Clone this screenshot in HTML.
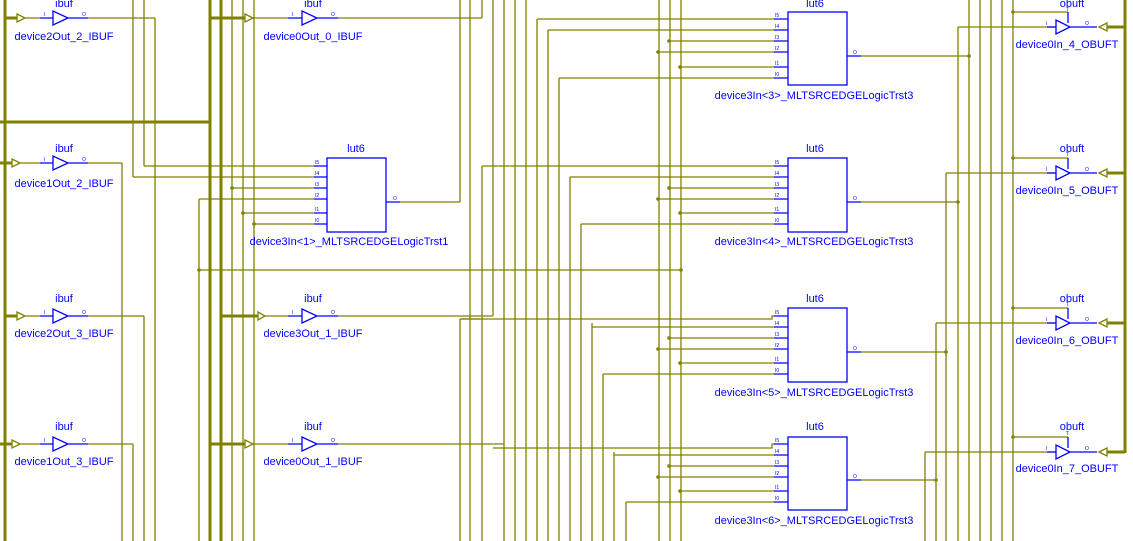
<!DOCTYPE html>
<html><head><meta charset="utf-8"><style>
body{margin:0;background:#fff;width:1133px;height:541px;overflow:hidden}
svg{display:block}
text{font-family:"Liberation Sans",Arial,sans-serif;fill:#0000ff}
.w{stroke:#808000;stroke-width:1.3;fill:none}
.t{stroke:#808000;stroke-width:3;fill:none}
.b{stroke:#0000ff;stroke-width:1.3;fill:none}
.d{fill:#808000}
.lb{font-size:11px}
.pn{font-size:5px;fill:#0000ff}
</style></head><body>
<svg width="1133" height="541" viewBox="0 0 1133 541">
<path class="t" d="M5 0V541M210 0V541M221 0V541M1125 0V453M0 122H210"/>
<path class="w" d="M155 18V541M122 163V541M144 0V166M133 0V177M144 316V541M133 444V541M199 199V541M232 0V541M243 0V541M254 0V541M460 0V202M460 319V541M470 0V541"/>
<path class="w" d="M482 0V18M482 166V541M493 0V316M504 0V541M515 0V541M526 0V541M537 19V541M548 30V541M559 78V541M570 177V541M581 224V541M592 323V541M603 374V541M614 452V541M626 502V541M659 0V541M670 0V541M681 0V541"/>
<path class="w" d="M925 452V541M936 323V541M946 173V541M958 27V541M969 0V541M980 0V541M991 0V541M1002 0V541M1013 0V541"/>
<path class="w" d="M88 18H155M88 163H122M88 316H144M88 444H133M338 18H482M338 316H493M460 319H480M338 444H504M199 270H681"/>
<path class="w" d="M144 166H314M133 177H314M232 188H314M199 199H314M243 213H314M254 224H314M400 202H460"/>
<path class="w" d="M537 19H774M548 30H774M669 41H774M658 52H774M680 67H774M559 78H774M861 56H969"/>
<path class="w" d="M482 166H774M570 177H774M669 188H774M658 199H774M680 213H774M581 224H774M861 202H958"/>
<path class="w" d="M460 319H772V316H774M592 327H774M669 338H774M658 349H774M680 363H774M603 374H774M861 352H946"/>
<path class="w" d="M493 448H772V444H774M614 455H774M669 466H774M658 477H774M680 491H774M626 502H774M861 480H936"/>
<path class="w" d="M1013 12H1068M958 27H1056M1013 158H1068M946 173H1056M1013 308H1068M936 323H1056M1013 437H1068M925 452H1056"/>
<g class="d">
<circle cx="232" cy="188" r="1.8"/><circle cx="243" cy="213" r="1.8"/><circle cx="254" cy="224" r="1.8"/><circle cx="199" cy="270" r="1.8"/><circle cx="681" cy="270" r="1.8"/>
<circle cx="669" cy="41" r="1.8"/><circle cx="658" cy="52" r="1.8"/><circle cx="680" cy="67" r="1.8"/>
<circle cx="669" cy="188" r="1.8"/><circle cx="658" cy="199" r="1.8"/><circle cx="680" cy="213" r="1.8"/>
<circle cx="669" cy="338" r="1.8"/><circle cx="658" cy="349" r="1.8"/><circle cx="680" cy="363" r="1.8"/>
<circle cx="669" cy="466" r="1.8"/><circle cx="658" cy="477" r="1.8"/><circle cx="680" cy="491" r="1.8"/>
<circle cx="969" cy="56" r="1.8"/><circle cx="958" cy="202" r="1.8"/><circle cx="946" cy="352" r="1.8"/><circle cx="936" cy="480" r="1.8"/>
<circle cx="1013" cy="12" r="1.8"/><circle cx="1013" cy="158" r="1.8"/><circle cx="1013" cy="308" r="1.8"/><circle cx="1013" cy="437" r="1.8"/>
</g>
<path class="t" d="M5 18H17M0 163H12M5 316H17M0 444H12M210 18H245M221 316H258M210 444H245M1107 27H1125M1107 173H1125M1107 323H1125M1107 452H1125"/>
<path class="w" d="M17 14L25 18L17 22ZM25 18H40M12 159L20 163L12 167ZM20 163H40M17 312L25 316L17 320ZM25 316H40M12 440L20 444L12 448ZM20 444H40M245 14L253 18L245 22ZM253 18H288M258 312L265 316L258 320ZM265 316H288M245 440L253 444L245 448ZM253 444H288"/>
<path class="w" d="M1107 23L1099 27L1107 31ZM1107 169L1099 173L1107 177ZM1107 319L1099 323L1107 327ZM1107 448L1099 452L1107 456Z"/>
<g class="b">
<path d="M40 18H53M53 11V25L68 18ZM68 18H88"/>
<path d="M40 163H53M53 156V170L68 163ZM68 163H88"/>
<path d="M40 316H53M53 309V323L68 316ZM68 316H88"/>
<path d="M40 444H53M53 437V451L68 444ZM68 444H88"/>
<path d="M288 18H302M302 11V25L317 18ZM317 18H338"/>
<path d="M288 316H302M302 309V323L317 316ZM317 316H338"/>
<path d="M288 444H302M302 437V451L317 444ZM317 444H338"/>
<rect x="327" y="158" width="59" height="74"/>
<path d="M314 166H327M314 177H327M314 188H327M314 199H327M314 213H327M314 224H327M386 202H400"/>
<rect x="788" y="12" width="59" height="73"/>
<path d="M774 19H788M774 30H788M774 41H788M774 52H788M774 67H788M774 78H788M847 56H861"/>
<rect x="788" y="158" width="59" height="74"/>
<path d="M774 166H788M774 177H788M774 188H788M774 199H788M774 213H788M774 224H788M847 202H861"/>
<rect x="788" y="308" width="59" height="74"/>
<path d="M774 316H788M774 327H788M774 338H788M774 349H788M774 363H788M774 374H788M847 352H861"/>
<rect x="788" y="437" width="59" height="73"/>
<path d="M774 444H788M774 455H788M774 466H788M774 477H788M774 491H788M774 502H788M847 480H861"/>
<path d="M1047 27H1056M1056 20V34L1070 27ZM1068 12V23M1070 27H1097"/>
<path d="M1047 173H1056M1056 166V180L1070 173ZM1068 158V169M1070 173H1097"/>
<path d="M1047 323H1056M1056 316V330L1070 323ZM1068 308V319M1070 323H1097"/>
<path d="M1047 452H1056M1056 445V459L1070 452ZM1068 437V448M1070 452H1097"/>
</g>
<g class="lb">
<text x="64" y="7" text-anchor="middle">ibuf</text><text x="64" y="40" text-anchor="middle">device2Out_2_IBUF</text>
<text x="64" y="152" text-anchor="middle">ibuf</text><text x="64" y="187" text-anchor="middle">device1Out_2_IBUF</text>
<text x="64" y="302" text-anchor="middle">ibuf</text><text x="64" y="337" text-anchor="middle">device2Out_3_IBUF</text>
<text x="64" y="430" text-anchor="middle">ibuf</text><text x="64" y="465" text-anchor="middle">device1Out_3_IBUF</text>
<text x="313" y="7" text-anchor="middle">ibuf</text><text x="313" y="40" text-anchor="middle">device0Out_0_IBUF</text>
<text x="313" y="302" text-anchor="middle">ibuf</text><text x="313" y="337" text-anchor="middle">device3Out_1_IBUF</text>
<text x="313" y="430" text-anchor="middle">ibuf</text><text x="313" y="465" text-anchor="middle">device0Out_1_IBUF</text>
<text x="356" y="152" text-anchor="middle">lut6</text><text x="349" y="245" text-anchor="middle">device3In&lt;1&gt;_MLTSRCEDGELogicTrst1</text>
<text x="815" y="7" text-anchor="middle">lut6</text><text x="814" y="99" text-anchor="middle">device3In&lt;3&gt;_MLTSRCEDGELogicTrst3</text>
<text x="815" y="152" text-anchor="middle">lut6</text><text x="814" y="245" text-anchor="middle">device3In&lt;4&gt;_MLTSRCEDGELogicTrst3</text>
<text x="815" y="302" text-anchor="middle">lut6</text><text x="814" y="396" text-anchor="middle">device3In&lt;5&gt;_MLTSRCEDGELogicTrst3</text>
<text x="815" y="430" text-anchor="middle">lut6</text><text x="814" y="524" text-anchor="middle">device3In&lt;6&gt;_MLTSRCEDGELogicTrst3</text>
<text x="1072" y="7" text-anchor="middle">obuft</text><text x="1067" y="48" text-anchor="middle">device0In_4_OBUFT</text>
<text x="1072" y="152" text-anchor="middle">obuft</text><text x="1067" y="194" text-anchor="middle">device0In_5_OBUFT</text>
<text x="1072" y="302" text-anchor="middle">obuft</text><text x="1067" y="344" text-anchor="middle">device0In_6_OBUFT</text>
<text x="1072" y="430" text-anchor="middle">obuft</text><text x="1067" y="472" text-anchor="middle">device0In_7_OBUFT</text>
</g>
<g class="pn">
<text x="44" y="16">I</text><text x="82" y="16">O</text><text x="44" y="161">I</text><text x="82" y="161">O</text>
<text x="44" y="314">I</text><text x="82" y="314">O</text><text x="44" y="442">I</text><text x="82" y="442">O</text>
<text x="292" y="16">I</text><text x="331" y="16">O</text><text x="292" y="314">I</text><text x="331" y="314">O</text>
<text x="292" y="442">I</text><text x="331" y="442">O</text>
<text x="315" y="164">I5</text><text x="315" y="175">I4</text><text x="315" y="186">I3</text><text x="315" y="197">I2</text><text x="315" y="211">I1</text><text x="315" y="222">I0</text><text x="393" y="200">O</text>
<text x="775" y="17">I5</text><text x="775" y="28">I4</text><text x="775" y="39">I3</text><text x="775" y="50">I2</text><text x="775" y="65">I1</text><text x="775" y="76">I0</text><text x="853" y="54">O</text>
<text x="775" y="164">I5</text><text x="775" y="175">I4</text><text x="775" y="186">I3</text><text x="775" y="197">I2</text><text x="775" y="211">I1</text><text x="775" y="222">I0</text><text x="853" y="200">O</text>
<text x="775" y="314">I5</text><text x="775" y="325">I4</text><text x="775" y="336">I3</text><text x="775" y="347">I2</text><text x="775" y="361">I1</text><text x="775" y="372">I0</text><text x="853" y="350">O</text>
<text x="775" y="442">I5</text><text x="775" y="453">I4</text><text x="775" y="464">I3</text><text x="775" y="475">I2</text><text x="775" y="489">I1</text><text x="775" y="500">I0</text><text x="853" y="478">O</text>
<text x="1046" y="25">I</text><text x="1085" y="25">O</text><text x="1066" y="11">T</text>
<text x="1046" y="171">I</text><text x="1085" y="171">O</text><text x="1066" y="156">T</text>
<text x="1046" y="321">I</text><text x="1085" y="321">O</text><text x="1066" y="306">T</text>
<text x="1046" y="450">I</text><text x="1085" y="450">O</text><text x="1066" y="435">T</text>
</g>
</svg>
</body></html>
